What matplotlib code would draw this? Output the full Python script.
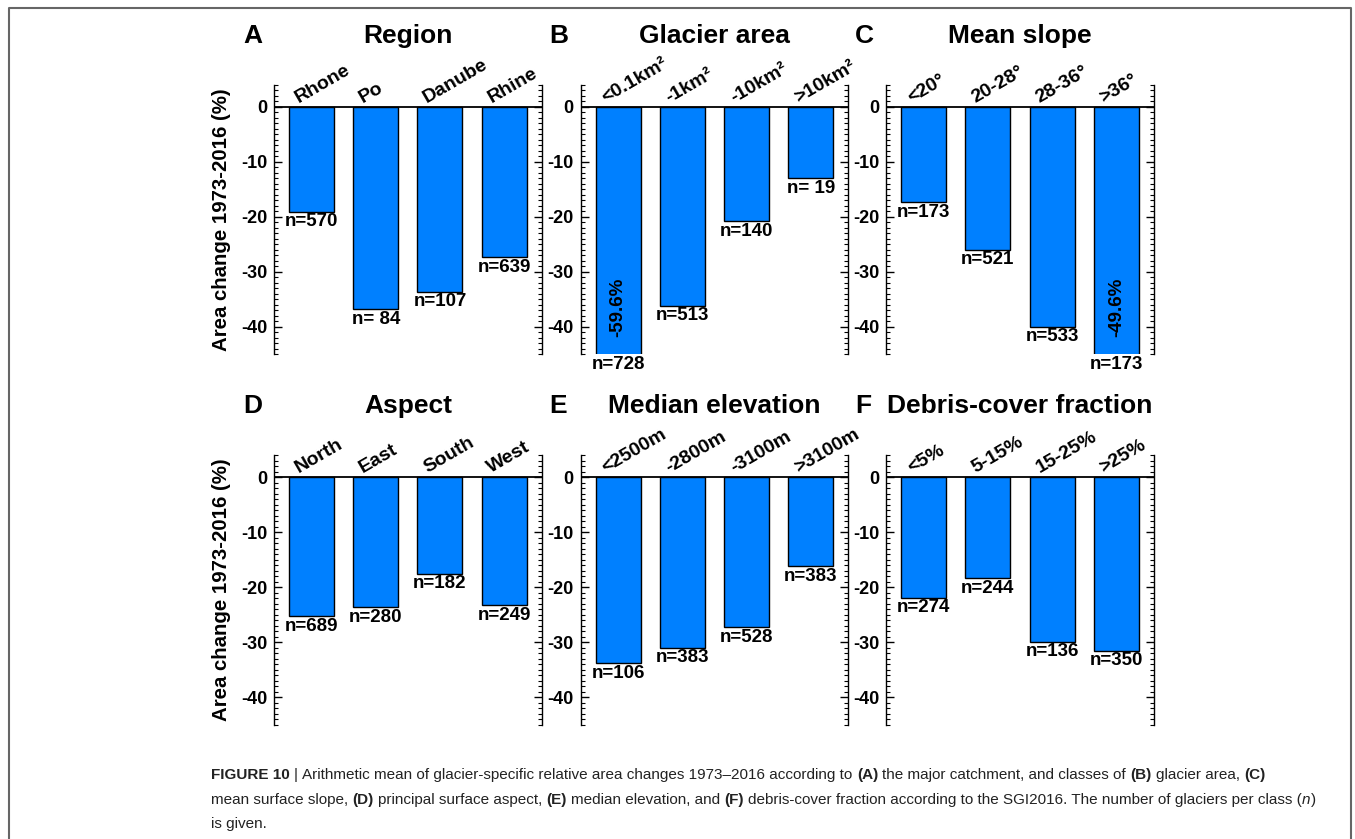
import numpy as np
import matplotlib
matplotlib.use('Agg')
import matplotlib.pyplot as plt
from matplotlib.ticker import MultipleLocator
from matplotlib.lines import Line2D

plt.rcParams['font.family'] = ['Liberation Sans', 'DejaVu Sans']
plt.rcParams['axes.unicode_minus'] = False

# ---------------- data ----------------
region_labels = ['Rhone', 'Po', 'Danube', 'Rhine']
region_values = [-19.1, -36.8, -33.6, -27.4]
region_n = [570, 84, 107, 639]

area_labels = ['<0.1km²', '-1km²', '-10km²', '>10km²']
area_values = [-59.6, -36.2, -20.8, -13.0]
area_n = [728, 513, 140, 19]

slope_labels = ['<20°', '20-28°', '28-36°', '>36°']
slope_values = [-17.4, -26.0, -40.0, -49.6]
slope_n = [173, 521, 533, 173]

aspect_labels = ['North', 'East', 'South', 'West']
aspect_values = [-25.2, -23.6, -17.5, -23.2]
aspect_n = [689, 280, 182, 249]

elev_labels = ['<2500m', '-2800m', '-3100m', '>3100m']
elev_values = [-33.8, -31.0, -27.3, -16.2]
elev_n = [106, 383, 528, 383]

debris_labels = ['<5%', '5-15%', '15-25%', '>25%']
debris_values = [-21.9, -18.3, -29.9, -31.5]
debris_n = [274, 244, 136, 350]

panel_letters = ['A', 'B', 'C', 'D', 'E', 'F']
panel_titles = ['Region', 'Glacier area', 'Mean slope',
                'Aspect', 'Median elevation', 'Debris-cover fraction']
ylabel_text = 'Area change 1973-2016 (%)'

# ---------------- layout ----------------
W, H = 1355, 839
fig = plt.figure(figsize=(W / 100, H / 100), dpi=100)

cols = [(274, 541.7), (580.7, 848.3), (886, 1154)]
rows = [(84.7, 354.2), (455.3, 724.8)]
title_base = [43, 413]

BAR_COLOR = '#0080ff'
YMIN, YMAX = -45, 4
BW = 0.70

panels = [
    (region_labels, region_values, region_n),
    (area_labels, area_values, area_n),
    (slope_labels, slope_values, slope_n),
    (aspect_labels, aspect_values, aspect_n),
    (elev_labels, elev_values, elev_n),
    (debris_labels, debris_values, debris_n),
]

for k, (labels, values, ns) in enumerate(panels):
    r, c = divmod(k, 3)
    l, rr = cols[c]
    t, b = rows[r]
    ax = fig.add_axes([l / W, 1 - b / H, (rr - l) / W, (b - t) / H])
    x = np.arange(1, len(values) + 1)
    ax.bar(x, values, width=BW, color=BAR_COLOR, edgecolor='black', linewidth=1.0, zorder=2)
    ax.axhline(0, color='black', lw=1.3, zorder=3)
    ax.set_xlim(0.415, 4.585)
    ax.set_ylim(YMIN, YMAX)
    for s in ['top', 'bottom']:
        ax.spines[s].set_visible(False)
    for s in ['left', 'right']:
        ax.spines[s].set_linewidth(1.0)
    ax.set_xticks([])
    ax.yaxis.set_major_locator(MultipleLocator(10))
    ax.yaxis.set_minor_locator(MultipleLocator(1))
    ax.tick_params(axis='y', which='major', direction='in', length=6, width=1.0,
                   left=True, right=True, labelsize=13, pad=5)
    ax.tick_params(axis='y', which='minor', direction='in', length=3, width=0.8,
                   left=True, right=True)
    for lab in ax.get_yticklabels():
        lab.set_fontweight('bold')

    for xi, v, n, lab in zip(x, values, ns, labels):
        ax.text(xi - BW / 2 + 0.15, 0.7, lab, rotation=30, rotation_mode='anchor',
                ha='left', va='baseline', fontsize=14, fontweight='bold', clip_on=False)
        ybot = max(v, YMIN)
        ax.text(xi, ybot - 0.3, 'n=%3d' % n, ha='center', va='top',
                fontsize=13.5, fontweight='bold', clip_on=False)
        if v < YMIN:
            ax.text(xi, -36.5, '%.1f%%' % v, rotation=90, ha='center', va='center',
                    fontsize=13.5, fontweight='bold')

    cx = (l + rr) / 2
    fig.text(cx / W, 1 - title_base[r] / H, panel_titles[k], ha='center', va='baseline',
             fontsize=19, fontweight='bold')
    fig.text((l - 31) / W, 1 - title_base[r] / H, panel_letters[k], ha='left', va='baseline',
             fontsize=19, fontweight='bold')
    if c == 0:
        ax.set_ylabel(ylabel_text, fontsize=14.7, fontweight='bold', labelpad=7)

# ---------------- frame ----------------
fx0, fy0, fx1 = 9, 8, 1351
fig.add_artist(Line2D([fx0 / W, fx0 / W, fx1 / W, fx1 / W],
                      [0, 1 - fy0 / H, 1 - fy0 / H, 0],
                      transform=fig.transFigure, color='#666666', lw=1.5))

# ---------------- caption ----------------
cap_family = ['Liberation Sans', 'DejaVu Sans']
cap_lines = [
    [('FIGURE 10', 'bold', 'normal'), (' | ', 'normal', 'normal'),
     ('Arithmetic mean of glacier-specific relative area changes 1973–2016 according to ', 'normal', 'normal'),
     ('(A)', 'bold', 'normal'), (' the major catchment, and classes of ', 'normal', 'normal'),
     ('(B)', 'bold', 'normal'), (' glacier area, ', 'normal', 'normal'), ('(C)', 'bold', 'normal')],
    [('mean surface slope, ', 'normal', 'normal'), ('(D)', 'bold', 'normal'),
     (' principal surface aspect, ', 'normal', 'normal'), ('(E)', 'bold', 'normal'),
     (' median elevation, and ', 'normal', 'normal'), ('(F)', 'bold', 'normal'),
     (' debris-cover fraction according to the SGI2016. The number of glaciers per class (', 'normal', 'normal'),
     ('n', 'normal', 'italic'), (')', 'normal', 'normal')],
    [('is given.', 'normal', 'normal')],
]
cap_x0 = 211
cap_base = [779, 804, 828]
cap_target_w = 1323 - 211

renderer = fig.canvas.get_renderer()


def text_w(s, size, weight, style):
    t = fig.text(0, 0, s, fontsize=size, fontweight=weight, fontstyle=style, family=cap_family)
    w = t.get_window_extent(renderer=renderer).width
    t.remove()
    return w


def layout_line(runs, size, draw=False, y=0):
    x = cap_x0
    for s, wgt, sty in runs:
        sw = text_w('x x', size, wgt, sty) - text_w('xx', size, wgt, sty)
        lead = len(s) - len(s.lstrip(' '))
        trail = len(s) - len(s.rstrip(' '))
        core = s.strip(' ')
        x += lead * sw
        if core:
            if draw:
                fig.text(x / W, 1 - y / H, core, fontsize=size, fontweight=wgt, fontstyle=sty,
                         family=cap_family, ha='left', va='baseline', color='#222222')
            x += text_w(core, size, wgt, sty)
        x += trail * sw
    return x - cap_x0


size0 = 12.0
wmax = max(layout_line(runs, size0) for runs in cap_lines)
cap_size = size0 * cap_target_w / wmax
for runs, yb in zip(cap_lines, cap_base):
    layout_line(runs, cap_size, draw=True, y=yb)

fig.savefig('out.png', dpi=100)
